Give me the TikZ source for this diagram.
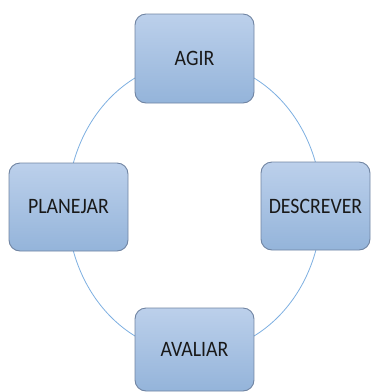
\documentclass[tikz,border=0pt]{standalone}
\usepackage{fontspec}
\usepackage{graphicx}
\setmainfont{Carlito}
\definecolor{boxtop}{RGB}{188,208,235}
\definecolor{boxbottom}{RGB}{148,180,218}
\definecolor{boxline}{RGB}{112,132,162}
\definecolor{ringblue}{RGB}{125,175,225}
\newcommand\boxlabel[1]{\scalebox{0.9}[1]{#1}}
\tikzset{cyclebox/.style={draw=boxline, line width=0.9pt, rounded corners=11pt,
  top color=boxtop, bottom color=boxbottom,
  minimum width=119pt, minimum height=89pt,
  font=\fontsize{22}{26}\selectfont, text=black!90}}

\begin{document}
\begin{tikzpicture}[x=1pt,y=-1pt]
  \useasboundingbox (0,0) rectangle (372,392);
    \coordinate (mid) at (194.5,207);
    \draw [ringblue, line width=0.8pt] (mid) ellipse [x radius=127, y radius=146];
    \node[cyclebox] (agir) at (194.5,58.5) {\boxlabel{AGIR}};
    \node[cyclebox, minimum width=109pt, minimum height=88pt] (descrever) at (315.5,206) {\boxlabel{DESCREVER}};
    \node[cyclebox, minimum height=88pt] (planejar) at (68.5,207) {\boxlabel{PLANEJAR}};
    \node[cyclebox, minimum height=83pt] (avaliar) at (194.5,349.5) {\boxlabel{AVALIAR}};
  \end{tikzpicture}
\end{document}
